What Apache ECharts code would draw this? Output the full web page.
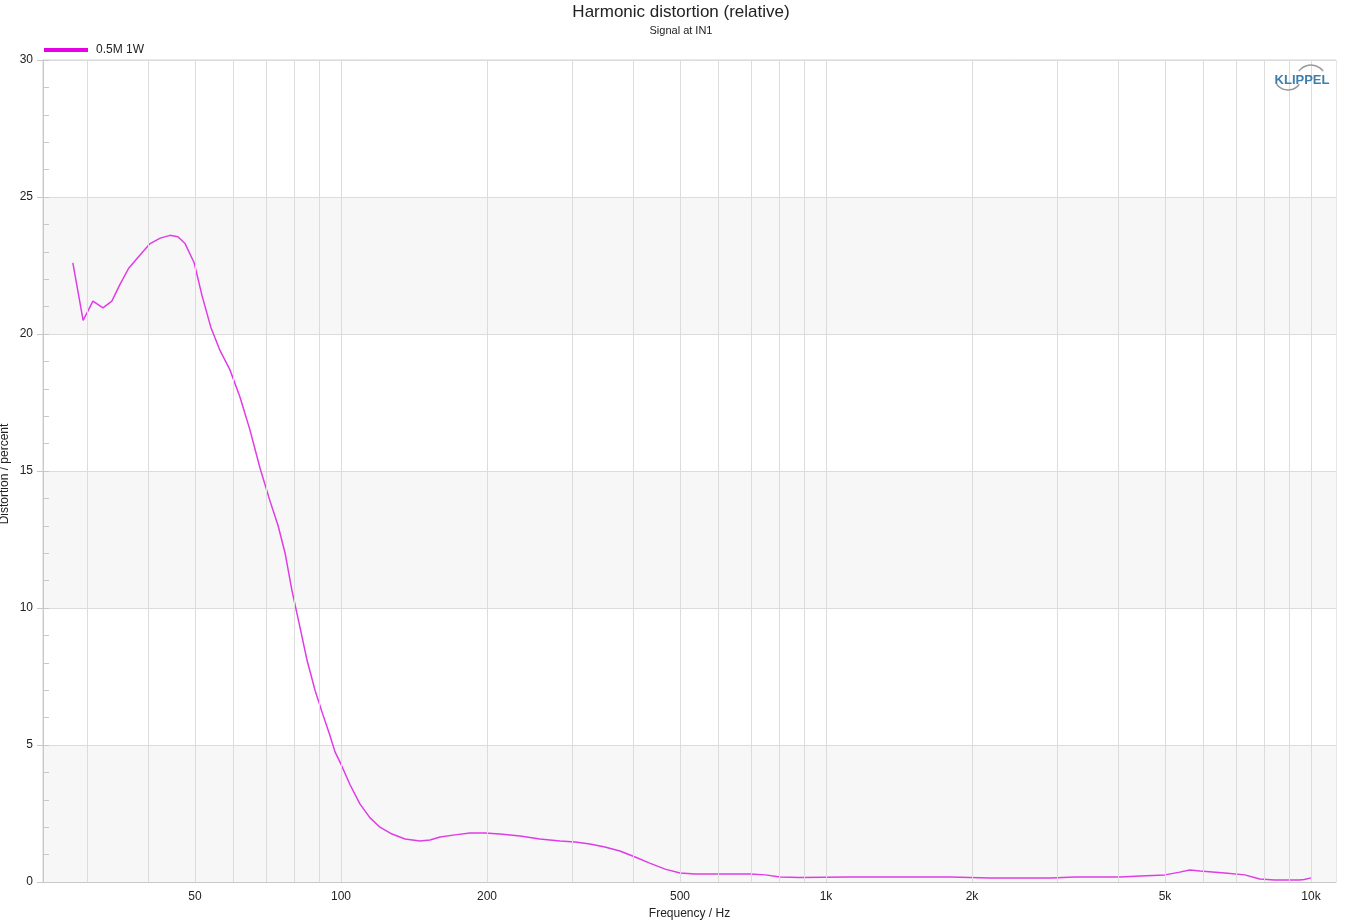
<!DOCTYPE html>
<html>
<head>
<meta charset="utf-8">
<title>Harmonic distortion (relative)</title>
<script src="https://cdn.jsdelivr.net/npm/echarts@6/dist/echarts.min.js"></script>
<style>
  html, body { margin: 0; padding: 0; background: #fff; }
  #chart { width: 1362px; height: 922px; }
</style>
</head>
<body>
<div id="chart"></div>
<script>
// frequency points (Hz) and relative harmonic distortion (%)
const freq = [
  28.0, 29.4, 30.8, 32.3, 33.7, 35.0, 36.5, 38.6, 40.4, 42.4,
  44.4, 46.1, 47.7, 49.8, 51.7, 53.9, 56.3, 59.0, 61.9, 64.9,
  68.1, 71.4, 74.2, 76.7, 79.2, 82.3, 85.1, 88.4, 91.4, 94.9,
  97.2, 100, 104.4, 109.4, 114.7, 120.3, 127.4, 135.5, 145.5, 152.6,
  160, 171.8, 184.5, 198, 212.7, 234, 257, 283, 304, 326,
  350, 376, 404, 433, 466, 500, 537, 605, 697, 750,
  804, 884, 1115, 1417, 1800, 2180, 2903, 3270, 4044, 4449,
  5000, 5363, 5626, 5903, 6644, 7302, 7838, 8410, 9465, 9687, 10000
]
const distortion = [
  22.6, 20.5, 21.2, 20.95, 21.2, 21.8, 22.4, 22.9, 23.3, 23.5,
  23.6, 23.55, 23.3, 22.6, 21.4, 20.25, 19.4, 18.7, 17.7, 16.5,
  15.1, 13.9, 13.0, 12.0, 10.65, 9.3, 8.1, 7.0, 6.2, 5.35,
  4.75, 4.3, 3.55, 2.85, 2.35, 2.0, 1.75, 1.57, 1.5, 1.53,
  1.64, 1.72, 1.79, 1.79, 1.75, 1.68, 1.57, 1.5, 1.46, 1.39,
  1.28, 1.13, 0.91, 0.69, 0.47, 0.33, 0.29, 0.29, 0.29, 0.26,
  0.18, 0.16, 0.18, 0.18, 0.18, 0.15, 0.15, 0.18, 0.18, 0.22,
  0.26, 0.36, 0.44, 0.4, 0.33, 0.26, 0.11, 0.07, 0.07, 0.09, 0.15
]
const seriesName = '0.5M 1W'
const xLabelValues = [50, 100, 200, 500, 1000, 2000, 5000, 10000]
const gridFreqs = [
  30, 40, 50, 60, 70, 80, 90, 100,
  200, 300, 400, 500, 600, 700, 800, 900, 1000,
  2000, 3000, 4000, 5000, 6000, 7000, 8000, 9000, 10000
]

const font = 'Liberation Sans, Arial, sans-serif'
const lineColor = '#e03ce6'

const chart = echarts.init(document.getElementById('chart'))

const option = {
  animation: false,
  backgroundColor: '#ffffff',
  textStyle: { fontFamily: font },
  title: {
    text: 'Harmonic distortion (relative)',
    subtext: 'Signal at IN1',
    left: 'center',
    top: -1,
    itemGap: 4,
    textStyle: { fontFamily: font, fontSize: 17, fontWeight: 'normal', color: '#222' },
    subtextStyle: { fontFamily: font, fontSize: 11, color: '#222' }
  },
  legend: {
    left: 39,
    top: 39,
    itemWidth: 44,
    itemHeight: 4,
    itemGap: 10,
    icon: 'rect',
    textStyle: { fontFamily: font, fontSize: 12, color: '#222', padding: [0, 0, 0, 3] },
    data: [{ name: seriesName, itemStyle: { color: '#e600e6' } }]
  },
  grid: {
    left: 43,
    right: 26,
    top: 60,
    bottom: 40,
    outerBoundsMode: 'none',
    containLabel: false,
    show: true,
    borderColor: '#d0d0d0',
    borderWidth: 1
  },
  xAxis: {
    type: 'log',
    logBase: 10,
    min: 24.3,
    max: 11260,
    name: 'Frequency / Hz',
    nameLocation: 'middle',
    nameGap: 26,
    nameTextStyle: { fontFamily: font, fontSize: 12, color: '#222' },
    axisLine: { show: true, lineStyle: { color: '#c8c8c8' } },
    axisTick: { show: false },
    splitLine: { show: false },
    axisLabel: {
      customValues: xLabelValues,
      fontFamily: font,
      fontSize: 12,
      color: '#222',
      margin: 9,
      formatter: v => (v >= 1000 ? (v / 1000) + 'k' : String(v))
    }
  },
  yAxis: [
    {
      type: 'value',
      min: 0,
      max: 30,
      interval: 5,
      axisLine: { show: true, lineStyle: { color: '#c8c8c8' } },
      axisTick: { show: true, length: 6, lineStyle: { color: '#c8c8c8' } },
      axisLabel: { fontFamily: font, fontSize: 12, color: '#222', margin: 10 },
      splitLine: { show: true, lineStyle: { color: '#dcdcdc' } },
      splitArea: { show: true, areaStyle: { color: ['#f7f7f7', '#ffffff'] } }
    },
    {
      type: 'value',
      min: 0,
      max: 30,
      interval: 1,
      position: 'left',
      offset: 0,
      axisLine: { show: false },
      axisTick: { show: true, inside: true, length: 6, lineStyle: { color: '#c8c8c8' } },
      axisLabel: { show: false },
      splitLine: { show: false }
    }
  ],
  graphic: [
    {
      type: 'text',
      x: 5,
      y: 474,
      rotation: Math.PI / 2,
      z: 100,
      style: {
        text: 'Distortion / percent',
        fill: '#222',
        font: '12px ' + font,
        textAlign: 'center',
        textVerticalAlign: 'middle'
      }
    },
    {
      type: 'group',
      z: 100,
      children: [
        {
          type: 'text',
          x: 1302,
          y: 80,
          z: 100,
          style: {
            text: 'KLIPPEL',
            fill: '#3f7fae',
            font: 'bold 13px ' + font,
            textAlign: 'center',
            textVerticalAlign: 'middle'
          }
        },
        {
          type: 'arc',
          z: 100,
          shape: { cx: 1311, cy: 80, r: 15, startAngle: Math.PI * 1.2, endAngle: Math.PI * 1.8 },
          style: { stroke: '#999999', lineWidth: 1.5, fill: null }
        },
        {
          type: 'arc',
          z: 100,
          shape: { cx: 1288, cy: 76, r: 14, startAngle: Math.PI * 0.2, endAngle: Math.PI * 0.8 },
          style: { stroke: '#999999', lineWidth: 1.5, fill: null }
        }
      ]
    }
  ],
  series: [
    {
      name: seriesName,
      type: 'line',
      data: freq.map((f, i) => [f, distortion[i]]),
      smooth: false,
      symbol: 'none',
      lineStyle: { color: lineColor, width: 1.5 },
      itemStyle: { color: lineColor },
      markLine: {
        silent: true,
        symbol: 'none',
        label: { show: false },
        lineStyle: { color: '#dcdcdc', width: 1, type: 'solid' },
        data: gridFreqs.map(f => ({ xAxis: f }))
      },
      z: 3
    }
  ]
}

chart.setOption(option)
</script>
</body>
</html>
